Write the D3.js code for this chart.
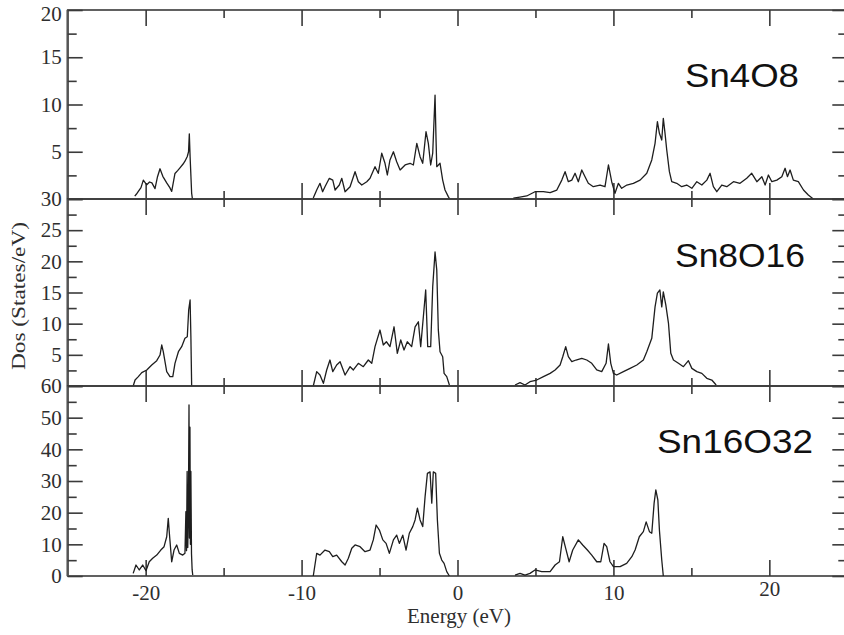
<!DOCTYPE html>
<html>
<head>
<meta charset="utf-8">
<script src="https://cdn.jsdelivr.net/npm/d3@7/dist/d3.min.js"></script>
<style>
  html, body { margin: 0; padding: 0; background: #fff; }
  svg { display: block; }
  .tick text { font-family: "Liberation Serif", "DejaVu Serif", serif; font-size: 21px; fill: #2e2e2e; }
</style>
</head>
<body>
<svg id="chart" width="844" height="635"></svg>
<script>
// Density of states of SnO2 supercells; null marks a gap between bands.
const panelNames = ["Sn4O8", "Sn8O16", "Sn16O32"];
const yMax = [20, 30, 60];
// The zero of the upper panels sits under the top label of the panel below, so only the lowest panel prints it.
const yMajorTicks = [[0, 5, 10, 15, 20], [0, 5, 10, 15, 20, 25, 30], [0, 10, 20, 30, 40, 50, 60]];
const yLabelledTicks = [[5, 10, 15, 20], [5, 10, 15, 20, 25, 30], [0, 10, 20, 30, 40, 50, 60]];
const yMinorTicks = [[2.5, 7.5, 12.5, 17.5], [2.5, 7.5, 12.5, 17.5, 22.5, 27.5], [5, 15, 25, 35, 45, 55]];
const xMajorTicks = [-20, -10, 0, 10, 20];
const xMinorTicks = [-15, -5, 5, 15];

const sn4o8Energy = [
  -20.70, -20.60, -20.47, -20.30, -20.15, -19.93, -19.75, -19.60, -19.40, -19.25, -19.08, -18.90, -18.65, -18.45, -18.33, -18.12, -17.95, -17.80, -17.60, -17.48, -17.33, -17.25, -17.20, -17.15, -17.05, -17.00,
  null,
  -9.25, -9.03, -8.82, -8.65, -8.50, -8.22, -8.00, -7.85, -7.58, -7.42, -7.21, -6.89, -6.57, -6.36, -6.14, -5.82, -5.61, -5.29, -5.08, -4.86, -4.65, -4.50, -4.33, -4.11, -3.90, -3.68, -3.36, -3.04, -2.83, -2.61, -2.40, -2.23, -2.02, -1.87, -1.72, -1.59, -1.44, -1.38, -1.33, -1.12, -0.95, -0.80, -0.59, -0.50,
  null,
  3.58, 4.00, 4.44, 4.97, 5.51, 5.94, 6.37, 6.69, 6.90, 7.11, 7.33, 7.54, 7.75, 7.97, 8.18, 8.39, 8.71, 9.14, 9.46, 9.68, 9.89, 10.10, 10.32, 10.53, 10.86, 11.28, 11.71, 12.14, 12.46, 12.67, 12.82, 12.95, 13.10, 13.20, 13.31, 13.42, 13.59, 13.74, 14.06, 14.38, 14.70, 15.03, 15.35, 15.67, 15.99, 16.20, 16.41, 16.63, 16.95, 17.27, 17.70, 18.12, 18.55, 18.87, 19.20, 19.52, 19.73, 19.94, 20.16, 20.48, 20.80, 21.01, 21.16, 21.33, 21.54, 21.86, 22.19, 22.50, 22.82
];
const sn4o8Dos = [
  0.3, 0.5, 0.8, 1.2, 2.0, 1.5, 1.8, 1.7, 1.1, 2.3, 3.2, 2.4, 1.7, 1.2, 0.8, 2.7, 3.0, 3.3, 3.7, 4.0, 4.5, 5.0, 6.9, 4.5, 0.6, 0,
  null,
  0.1, 0.95, 1.66, 0.77, 1.3, 2.19, 2.0, 0.95, 1.48, 2.19, 0.77, 1.3, 2.89, 1.83, 1.48, 1.83, 2.19, 3.42, 2.72, 4.84, 3.78, 2.54, 4.13, 5.0, 3.95, 3.07, 3.6, 3.78, 3.6, 5.89, 4.48, 3.78, 7.12, 5.89, 3.6, 4.84, 11.0, 6.5, 3.42, 3.78, 2.0, 0.95, 0.25, 0,
  null,
  0.1, 0.2, 0.32, 0.77, 0.77, 0.67, 0.95, 2.0, 2.89, 1.83, 2.0, 2.72, 1.83, 3.07, 2.36, 1.66, 1.3, 1.48, 1.3, 3.6, 1.83, 0.6, 1.66, 1.13, 1.48, 1.66, 2.0, 2.72, 4.13, 5.89, 8.18, 6.95, 6.24, 8.54, 6.95, 5.19, 2.89, 1.83, 1.66, 1.3, 1.48, 1.13, 1.83, 1.48, 2.0, 2.72, 1.3, 0.77, 1.48, 1.3, 1.83, 1.66, 2.19, 2.72, 1.83, 2.36, 1.48, 2.54, 1.83, 2.0, 2.36, 3.25, 2.36, 3.07, 2.0, 1.83, 0.95, 0.42, 0
];

const sn8o16Energy = [
  -20.80, -20.68, -20.47, -20.25, -19.93, -19.61, -19.29, -19.08, -18.97, -18.87, -18.65, -18.44, -18.26, -18.12, -17.90, -17.69, -17.48, -17.33, -17.24, -17.15, -17.10, -17.05,
  null,
  -9.25, -9.03, -8.82, -8.60, -8.39, -8.18, -8.00, -7.75, -7.53, -7.21, -6.89, -6.68, -6.36, -6.04, -5.72, -5.50, -5.29, -4.97, -4.76, -4.56, -4.33, -4.07, -3.86, -3.64, -3.43, -3.22, -2.94, -2.72, -2.51, -2.36, -2.19, -2.04, -1.91, -1.72, -1.59, -1.44, -1.33, -1.23, -1.12, -0.95, -0.86, -0.69, -0.52,
  null,
  3.69, 4.01, 4.33, 4.65, 5.08, 5.51, 5.94, 6.26, 6.58, 6.75, 6.94, 7.11, 7.33, 7.60, 7.97, 8.29, 8.61, 8.93, 9.25, 9.53, 9.68, 9.83, 10.00, 10.21, 10.64, 11.07, 11.50, 11.92, 12.14, 12.46, 12.67, 12.82, 12.98, 13.10, 13.20, 13.36, 13.53, 13.68, 13.85, 14.17, 14.49, 14.81, 15.03, 15.35, 15.67, 15.99, 16.31, 16.59
];
const sn8o16Dos = [
  0, 0.96, 1.5, 2.14, 2.57, 3.37, 4.06, 4.97, 6.58, 5.5, 2.3, 1.5, 1.5, 3.64, 5.5, 6.31, 7.65, 7.9, 12.2, 13.8, 8.0, 0,
  null,
  0, 2.3, 1.76, 0.43, 2.57, 4.17, 2.3, 3.37, 3.9, 1.76, 3.1, 2.57, 3.64, 3.1, 4.17, 3.64, 6.31, 8.98, 6.58, 7.1, 6.31, 9.5, 5.24, 7.38, 5.78, 7.1, 6.31, 9.5, 10.3, 6.31, 11.1, 15.4, 6.31, 6.31, 15.9, 21.5, 18.6, 9.0, 5.5, 4.7, 2.03, 1.5, 0.16,
  null,
  0.16, 0.53, 0.16, 0.69, 0.96, 1.5, 2.03, 2.57, 3.37, 4.7, 6.31, 4.7, 3.9, 4.17, 4.44, 4.17, 3.64, 2.57, 2.3, 3.64, 6.74, 3.64, 2.03, 1.76, 2.3, 2.83, 3.37, 4.17, 5.5, 7.65, 12.7, 14.9, 15.4, 12.7, 15.1, 13.0, 10.1, 5.24, 4.17, 3.64, 3.1, 4.06, 2.83, 2.3, 2.03, 1.23, 0.96, 0.16
];

const sn16o32Energy = [
  -20.80, -20.62, -20.41, -20.19, -19.98, -19.77, -19.55, -19.29, -19.03, -18.82, -18.65, -18.55, -18.48, -18.33, -18.18, -18.01, -17.84, -17.62, -17.48, -17.42, -17.38, -17.34, -17.30, -17.26, -17.22, -17.19, -17.16, -17.13, -17.10, -17.06, -17.02, -16.98,
  null,
  -9.25, -9.03, -8.82, -8.50, -8.22, -8.00, -7.75, -7.42, -7.21, -7.00, -6.78, -6.57, -6.25, -5.93, -5.61, -5.40, -5.22, -5.01, -4.79, -4.58, -4.37, -4.11, -3.90, -3.73, -3.51, -3.30, -3.09, -2.87, -2.72, -2.57, -2.40, -2.23, -2.08, -1.93, -1.76, -1.65, -1.55, -1.40, -1.29, -1.16, -1.01, -0.86, -0.69, -0.52,
  null,
  3.69, 4.01, 4.33, 4.65, 4.97, 5.40, 5.94, 6.26, 6.54, 6.75, 6.94, 7.16, 7.39, 7.75, 8.03, 8.33, 8.61, 8.93, 9.19, 9.40, 9.57, 9.78, 10.00, 10.43, 10.85, 11.18, 11.39, 11.66, 11.92, 12.10, 12.31, 12.46, 12.61, 12.72, 12.85, 12.95, 13.10, 13.20
];
const sn16o32Dos = [
  0.84, 3.47, 1.9, 3.47, 1.68, 4.5, 5.6, 6.6, 8.2, 9.26, 12.4, 18.2, 13.5, 4.5, 8.2, 9.8, 7.16, 6.6, 7.16, 20.3, 8.0, 33.0, 9.0, 20.0, 54.0, 12.0, 47.0, 10.0, 33.0, 7.0, 2.0, 0.3,
  null,
  0, 7.16, 6.6, 8.2, 7.68, 6.1, 6.6, 4.5, 3.47, 5.6, 8.74, 9.8, 9.26, 7.68, 8.2, 11.4, 16.1, 14.5, 11.4, 10.3, 7.16, 11.4, 12.9, 10.3, 12.9, 8.2, 13.5, 15.6, 17.7, 21.4, 17.7, 15.6, 25.0, 32.4, 32.9, 23.0, 32.9, 32.4, 17.7, 7.16, 5.05, 4.0, 1.37, 0,
  null,
  0.3, 0.84, 0.3, 0.84, 1.9, 1.37, 1.37, 3.47, 4.5, 12.4, 8.74, 4.5, 8.2, 11.4, 9.8, 8.2, 6.6, 4.5, 4.5, 10.3, 9.26, 4.5, 2.95, 2.95, 4.0, 6.1, 8.2, 12.4, 14.0, 17.1, 14.0, 13.5, 23.0, 27.2, 24.0, 14.5, 5.05, 0
];

const energies = [sn4o8Energy, sn8o16Energy, sn16o32Energy];
const densities = [sn4o8Dos, sn8o16Dos, sn16o32Dos];

// Layout of the three stacked panels
const left = 67.7, right = 847.3;
const panelTop = [10, 199, 386];
const panelBottom = [199, 386, 576];
const labelPos = [
  { x: 685, y: 87.3, w: 114, size: 33 },
  { x: 675, y: 266.7, w: 130, size: 34 },
  { x: 657, y: 453.3, w: 156, size: 34 }
];

const svg = d3.select("#chart");
const x = d3.scaleLinear().domain([-25, 25]).range([left, right]);
const plainNumber = d => String(d);   // ASCII hyphen for negative values

panelNames.forEach((name, i) => {
  const y = d3.scaleLinear().domain([0, yMax[i]]).range([panelBottom[i], panelTop[i]]);
  const g = svg.append("g");

  // Frame
  g.append("rect")
    .attr("x", left).attr("y", panelTop[i])
    .attr("width", right - left).attr("height", panelBottom[i] - panelTop[i])
    .attr("fill", "none").attr("stroke", "#3a3a3a").attr("stroke-width", 1.6);
  g.append("line")
    .attr("x1", left).attr("x2", left).attr("y1", panelTop[i]).attr("y2", panelBottom[i])
    .attr("stroke", "#555").attr("stroke-width", 2.4);

  // Y ticks, left (labelled) and right (inward only)
  g.append("g").attr("transform", `translate(${left},0)`)
    .call(d3.axisLeft(y).tickValues(yMajorTicks[i]).tickSizeInner(-15).tickSizeOuter(0).tickFormat(""));
  g.append("g").attr("transform", `translate(${left},0)`)
    .call(d3.axisLeft(y).tickValues(yLabelledTicks[i]).tickSize(0).tickPadding(6).tickFormat(plainNumber));
  g.append("g").attr("transform", `translate(${left},0)`)
    .call(d3.axisLeft(y).tickValues(yMinorTicks[i]).tickSizeInner(-9).tickSizeOuter(0).tickFormat(""));
  g.append("g").attr("transform", `translate(${right},0)`)
    .call(d3.axisRight(y).tickValues(yMajorTicks[i]).tickSizeInner(-15).tickSizeOuter(0).tickFormat(""));
  g.append("g").attr("transform", `translate(${right},0)`)
    .call(d3.axisRight(y).tickValues(yMinorTicks[i]).tickSizeInner(-9).tickSizeOuter(0).tickFormat(""));

  // X ticks, top and bottom, pointing inward
  g.append("g").attr("transform", `translate(0,${panelTop[i]})`)
    .call(d3.axisTop(x).tickValues(xMajorTicks).tickSizeInner(-16).tickSizeOuter(0).tickFormat(""));
  g.append("g").attr("transform", `translate(0,${panelTop[i]})`)
    .call(d3.axisTop(x).tickValues(xMinorTicks).tickSizeInner(-8).tickSizeOuter(0).tickFormat(""));
  const isLast = i === panelNames.length - 1;
  g.append("g").attr("transform", `translate(0,${panelBottom[i]})`)
    .call(d3.axisBottom(x).tickValues(xMajorTicks).tickSizeInner(-16).tickSizeOuter(0).tickPadding(9)
      .tickFormat(isLast ? plainNumber : ""));
  g.append("g").attr("transform", `translate(0,${panelBottom[i]})`)
    .call(d3.axisBottom(x).tickValues(xMinorTicks).tickSizeInner(-8).tickSizeOuter(0).tickFormat(""));

  g.selectAll(".domain").remove();
  g.selectAll(".tick line").attr("stroke", "#3a3a3a").attr("stroke-width", 1.6);

  // DOS curve
  const pts = energies[i].map((e, k) => [e, densities[i][k]]);
  const line = d3.line()
    .defined(d => d[0] !== null && d[1] !== null)
    .x(d => x(d[0])).y(d => y(d[1]));
  g.append("path")
    .datum(pts)
    .attr("d", line)
    .attr("fill", "none")
    .attr("stroke", "#1e1e1e")
    .attr("stroke-width", 1.3)
    .attr("stroke-linejoin", "round");

  // Panel label
  const lp = labelPos[i];
  g.append("text")
    .attr("x", lp.x).attr("y", lp.y)
    .attr("textLength", lp.w).attr("lengthAdjust", "spacingAndGlyphs")
    .style("font-family", "'Liberation Sans', Arial, sans-serif")
    .style("font-size", lp.size + "px")
    .attr("fill", "#111")
    .text(name);
});

// Top label of the first panel sits right at the edge; nudge it down a little
svg.selectAll(".tick text").filter(function () { return this.textContent === "20" && +d3.select(this.parentNode).attr("transform").match(/,([\d.]+)\)/)[1] < 15; })
  .attr("dy", "0.5em");

// Axis titles
svg.append("text")
  .attr("x", 459).attr("y", 623)
  .attr("text-anchor", "middle")
  .style("font-family", "'Liberation Serif', serif").style("font-size", "21px")
  .attr("fill", "#2e2e2e")
  .text("Energy (eV)");

svg.append("text")
  .attr("transform", "translate(25,296) rotate(-90)")
  .attr("text-anchor", "middle")
  .attr("textLength", 148).attr("lengthAdjust", "spacingAndGlyphs")
  .style("font-family", "'Liberation Serif', serif").style("font-size", "18px")
  .attr("fill", "#2e2e2e")
  .text("Dos (States/eV)");
</script>
</body>
</html>
